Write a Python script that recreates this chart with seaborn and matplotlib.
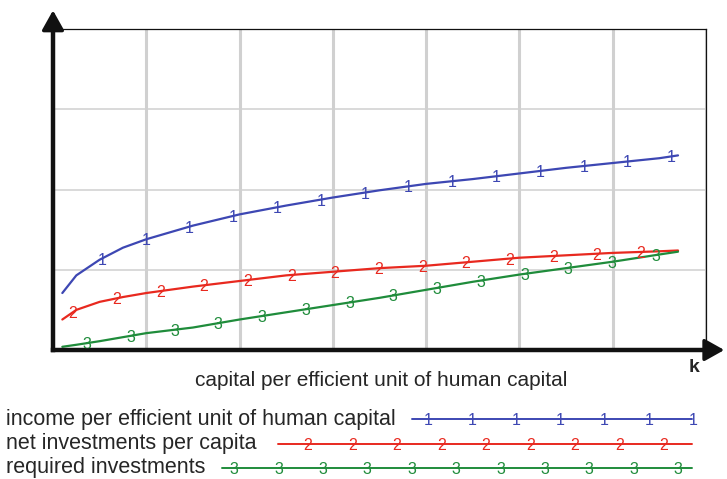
import numpy as np
import pandas as pd
import seaborn as sns
import matplotlib.pyplot as plt
import matplotlib.transforms as mtransforms

# Data (x in grid units, y in grid units)
k_values = [0.1, 0.25, 0.5, 0.75, 1.0, 1.5, 2.0, 2.5, 3.0, 3.5, 4.0, 4.5, 5.0, 5.5, 6.0, 6.5, 6.7]
income = [0.71, 0.93, 1.125, 1.275, 1.38, 1.55, 1.69, 1.80, 1.90, 1.99, 2.07, 2.13, 2.20, 2.27, 2.33, 2.39, 2.425]
net_invest = [0.38, 0.50, 0.60, 0.66, 0.71, 0.79, 0.86, 0.93, 0.975, 1.02, 1.05, 1.10, 1.15, 1.18, 1.21, 1.23, 1.24]
required_invest = [0.04, 0.065, 0.11, 0.16, 0.21, 0.28, 0.38, 0.47, 0.56, 0.65, 0.75, 0.85, 0.94, 1.02, 1.10, 1.19, 1.225]

series_names = ["income per efficient unit of human capital",
                "net investments per capita",
                "required investments"]
series_tags = ["1", "2", "3"]
colors = ["#3d47b3", "#e8291f", "#1f8c3b"]

df = pd.DataFrame({
    "k": k_values * 3,
    "value": income + net_invest + required_invest,
    "series": np.repeat(series_names, len(k_values)),
})

sns.set_style("white")
plt.rcParams["font.family"] = ["Liberation Sans", "DejaVu Sans"]

W, H = 727, 479
fig = plt.figure(figsize=(W / 100, H / 100), dpi=100)
ax = fig.add_axes([53 / W, (H - 350) / H, 653 / W, 321 / H])

sns.lineplot(data=df, x="k", y="value", hue="series", palette=colors,
             hue_order=series_names, linewidth=1.6, legend=False, ax=ax)

ax.set_xlim(0, 7)
ax.set_ylim(0, 4)
ax.set_xticks(range(8))
ax.set_yticks(range(5))
ax.tick_params(length=0, labelbottom=False, labelleft=False)
ax.set_xlabel("")
ax.set_ylabel("")
ax.xaxis.grid(True, color="#d0d0d0", lw=2.2)
ax.yaxis.grid(True, color="#d0d0d0", lw=1.1)
ax.set_axisbelow(True)
for s in ["top", "right"]:
    ax.spines[s].set_linewidth(0.9)
    ax.spines[s].set_color("#111111")
for s in ["left", "bottom"]:
    ax.spines[s].set_linewidth(3.2)
    ax.spines[s].set_color("#111111")

# numbered tags along the curves (sit slightly below the line)
tag_trans = mtransforms.offset_copy(ax.transData, fig=fig, y=-1.5, units="dots")
tag_ranges = [(0.525, 6.63), (0.214, 6.30), (0.364, 6.46)]
for ys, tag, col, (a, b) in zip([income, net_invest, required_invest], series_tags, colors, tag_ranges):
    for xm in np.linspace(a, b, 14):
        ax.text(xm, np.interp(xm, k_values, ys), tag, color=col, fontsize=11.5,
                ha="center", va="center", transform=tag_trans)

# axis arrows
arrow = dict(arrowstyle="-|>,head_length=0.5,head_width=0.28", lw=2.5, color="#111111",
             mutation_scale=24, shrinkA=0, shrinkB=0)
ax.annotate("", xy=(0, 1.058), xytext=(0, 0), xycoords="axes fraction", arrowprops=arrow)
ax.annotate("", xy=(1.028, 0), xytext=(0, 0), xycoords="axes fraction", arrowprops=arrow)

# overlay in pixel coordinates for labels and legend
lax = fig.add_axes([0, 0, 1, 1], facecolor="none")
lax.set_xlim(0, W)
lax.set_ylim(H, 0)
lax.axis("off")

lax.text(381, 386, "capital per efficient unit of human capital", fontsize=15,
         ha="center", va="baseline")
lax.text(694, 372, "k", fontsize=14, fontweight="bold", ha="center", va="baseline")

# (line y, line start, first tag, last tag, number of tags, text baseline)
legend_rows = [(419, 412, 428, 693, 7, 425), (444, 278, 308, 664, 9, 449), (468, 222, 234, 678, 11, 473)]
for name, tag, col, (yy, x0, m0, m1, n, base) in zip(series_names, series_tags, colors, legend_rows):
    lax.text(6, base, name, fontsize=15.5, ha="left", va="baseline")
    lax.plot([x0, 692], [yy, yy], color=col, lw=1.4)
    for xm in np.linspace(m0, m1, n):
        lax.text(xm, yy + 1.5, tag, color=col, fontsize=11.5, ha="center", va="center")

fig.savefig("out.png", dpi=100)
